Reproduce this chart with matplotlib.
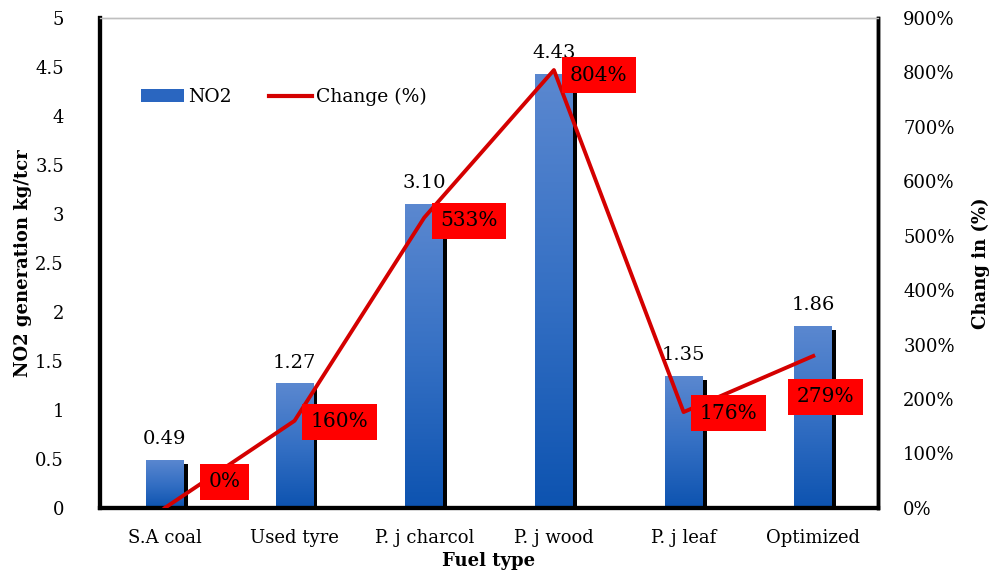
import matplotlib
matplotlib.use("Agg")
import matplotlib.pyplot as plt
import numpy as np
from matplotlib.patches import Patch
from matplotlib.lines import Line2D
from matplotlib.ticker import PercentFormatter

plt.rcParams['font.family'] = ['DejaVu Serif']

# fuel types and results
fuels = ['S.A coal', 'Used tyre', 'P. j charcol', 'P. j wood', 'P. j leaf', 'Optimized']
no2 = [0.49, 1.27, 3.10, 4.43, 1.35, 1.86]
change = [0, 160, 533, 804, 176, 279]
# where each % box sits relative to its point (pixels, x/y)
box_offsets = [(60, 26), (45, -1), (45, -3), (45, -5), (45, -1), (12, -41)]

fig = plt.figure(figsize=(9.9, 5.72), dpi=100)
ax = fig.add_axes([0.101, 0.112, 0.786, 0.857])
ax2 = ax.twinx()

x = np.arange(len(fuels))
w = 0.29

ax.set_xlim(-0.5, len(fuels) - 0.5)
ax.set_ylim(0, 5)
ax.set_yticks(np.arange(0, 5.01, 0.5))
ax.set_yticklabels(['0', '0.5', '1', '1.5', '2', '2.5', '3', '3.5', '4', '4.5', '5'])

# gradient fill for the bars
grad = np.linspace(0, 1, 256).reshape(-1, 1)
cmap = matplotlib.colors.LinearSegmentedColormap.from_list(
    'blues', ['#0d53b0', '#3570c4', '#5b88d0'])

for xi, v in zip(x, no2):
    # black shadow on the right side
    ax.bar(xi + 0.032, v - 0.04, width=w, color='black', zorder=1)
    bar = ax.bar(xi, v, width=w, color='none', zorder=2)[0]
    im = ax.imshow(grad, extent=[xi - w / 2, xi + w / 2, 0, v], origin='lower',
                   cmap=cmap, aspect='auto', zorder=2)
    im.set_clip_path(bar)
    ax.text(xi, v + 0.12, f'{v:.2f}', ha='center', va='bottom', fontsize=14)

ax.set_xticks(x)
ax.set_xticklabels(fuels, fontsize=13)
ax.tick_params(axis='y', labelsize=13, length=0, pad=26)
ax.tick_params(axis='x', length=0, pad=15)
ax.set_xlabel('Fuel type', fontsize=13, fontweight='bold', labelpad=4)
ax.set_ylabel('NO2 generation kg/tcr', fontsize=13, fontweight='bold', labelpad=2)

# percentage change line
ax2.set_ylim(0, 900)
ax2.set_yticks(np.arange(0, 901, 100))
ax2.yaxis.set_major_formatter(PercentFormatter(decimals=0))
ax2.tick_params(axis='y', labelsize=13, length=0, pad=18)
ax2.set_ylabel('Chang in (%)', fontsize=13, fontweight='bold', labelpad=12)
ax2.plot(x, change, color='#d40000', lw=2.8, zorder=3)

for xi, c, (dx, dy) in zip(x, change, box_offsets):
    ax2.annotate(f'{c}%', (xi, c), xytext=(dx * 0.72, dy * 0.72),
                 textcoords='offset points', ha='center', va='center',
                 fontsize=14.5,
                 bbox=dict(boxstyle='square,pad=0.42', fc='#ff0000', ec='none'))

for a in (ax, ax2):
    a.spines['top'].set_color('#bfbfbf')
    a.spines['top'].set_linewidth(1)
    a.spines['left'].set_linewidth(3)
    a.spines['bottom'].set_linewidth(3)
    a.spines['right'].set_linewidth(2.5)

handles = [Patch(facecolor='#2a66c0', edgecolor='none'),
           Line2D([0], [0], color='#d40000', lw=3)]
ax2.legend(handles, ['NO2', 'Change (%)'], loc='upper left',
           bbox_to_anchor=(0.043, 0.872), ncol=2, frameon=False, fontsize=13.5,
           handlelength=2.3, handleheight=0.7, handletextpad=0.2,
           columnspacing=2.0, borderaxespad=0)

fig.savefig('out.png', dpi=100)
